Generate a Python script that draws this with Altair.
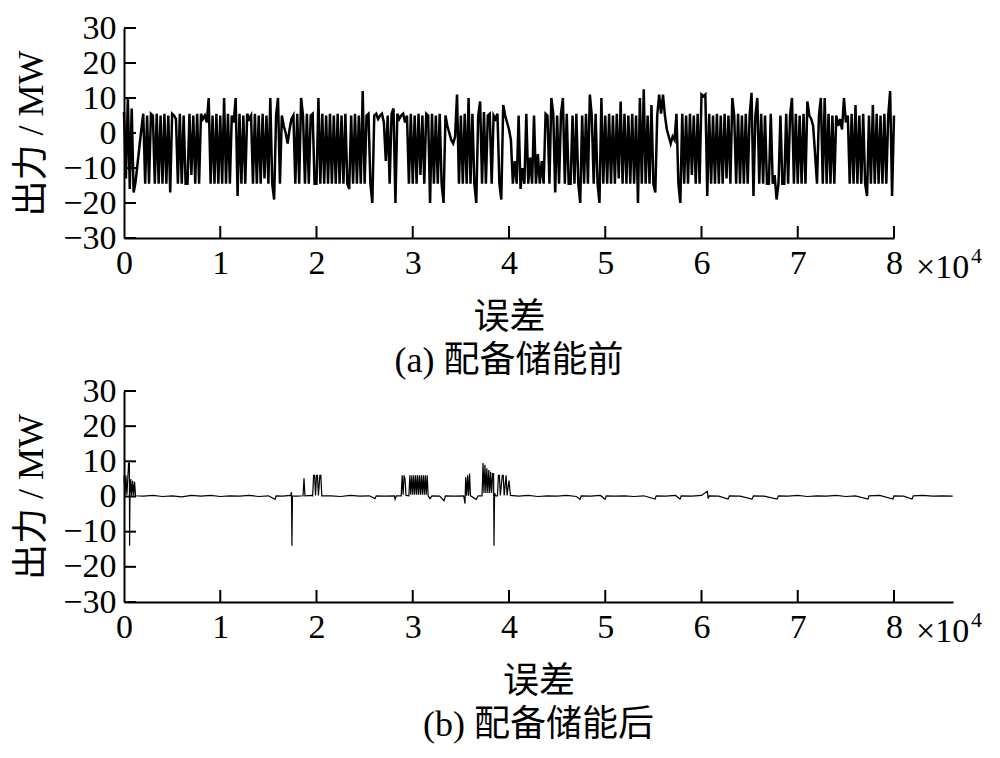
import altair as alt
import pandas as pd

# ---------------- data ----------------
STEP = 200  # sample spacing of the top series (x index units)

top_values = [
    6, -13, 10, -16, 7, -17, -14, -9, -4, 1,
    5.5, -14.5, 5, -14.5, 5.5, 5, -14.5, 5.5, -14.5, 5,
    -14.5, 5.5, -14.5, 5, -17, 5.5, 5, 4, -14.5, 5.5,
    -14.5, 5, -14.5, -14.5, 5.5, -12, 5, -14.5, 5.5, -14.5,
    5.5, 4, 5, 3, 10, -14.5, 5, -14.5, 5.5, -14.5,
    5, -14.5, 10, -14.5, 5.5, -14.5, 5, 3, 10, -18,
    5.5, -14.5, 5, -14.5, 5.5, 4, 5, -14.5, 5.5, -14.5,
    5, -14.5, 5.5, -13, 5, -14.5, 10, -14.5, -19, 5,
    10, -14.5, 5, 2, 0, -3, 1, 4, 5, -14.5,
    5.5, -14.5, 10, 5, -14.5, 5.5, -14.5, 5, 5.5, -14.5,
    -14.5, 10, -14.5, 5.5, -14.5, 5, -14.5, 5.5, -14.5, 5,
    -14.5, 5.5, -14.5, 5, -14.5, 5.5, -14.5, -16, 5, -14.5,
    5.5, -14.5, 5, -14.5, 12, -14.5, 5, 5.5, -14.5, -20,
    5, 5.5, 4, 5, 5.5, 3, -8, 5, -14.5, 5.5,
    7, -20, 5.5, 4, 5, 5.5, 3, 5, -14.5, 5.5,
    -14.5, 5, -14.5, 5.5, -12, 5, -14.5, 5.5, 5, -20,
    5.5, -14.5, 5, -14.5, 5.5, -14.5, -20, 5, 2, 0,
    -2, -3, -1, 11, -14.5, 5, -14.5, 5.5, -14.5, 10,
    -14.5, 5.5, -14.5, -20, 5, 9, -14.5, 6, -14.5, 5,
    5.5, -14.5, 5, 4, 5.5, -14.5, -19, 8, 5, 3,
    1, -2, -14.5, -8, -14.5, 5, -16, -10, -14.5, 5.5,
    -14.5, -7, -14.5, 5, -14.5, -6, -14.5, -8, -14.5, 5.5,
    5, -14.5, 10, 5.5, -17, 5, -14.5, 5.5, 10, -14.5,
    5.5, -14.5, -14.5, 5, -14.5, 5.5, -14.5, -20, 5, -14.5,
    5.5, -14.5, 11, 5, -14.5, 5.5, -14.5, -20, 10, -14.5,
    5, -14.5, 5.5, -14.5, 5, -14.5, 5.5, -13, 9, -14.5,
    5.5, -14.5, 5, -14.5, 5.5, -14.5, 5, -20, 10, -14.5,
    12.5, -14.5, 5, -14.5, 8, -14.5, -17, 5, 11, 5.5,
    11, 5, 1, -1, -3, -1, -2, 5.5, -14.5, -20,
    5.5, -14.5, 5, -14.5, 5.5, -12, 5, -14.5, 5.5, -14.5,
    11, 10.5, 11, -18, 5.5, -14.5, 5, -14.5, 5.5, -14.5,
    5, -14.5, 5.5, -13, 5, -14.5, 10, 5, -14.5, 5.5,
    -14.5, 5, -14.5, 5.5, -14.5, 5, 11.5, -18, 5, 10,
    -14.5, 5.5, -14.5, 5, -14.5, -14.5, 5.5, -14.5, -12, -19,
    -14.5, 5, -14.5, -14.5, 5.5, -14.5, 5, 10, -14.5, 5.5,
    -14.5, 5, -14.5, 5.5, -14.5, 9, 5, 4, 2, -6,
    -14.5, 5, 10, -14.5, 10, -14.5, 5.5, -14.5, 5, -14.5,
    5, 2, 4, 1, 10, 3, 5, -14.5, 5.5, -14.5,
    8, -14.5, 5, -14.5, 5.5, -14.5, -18, 5, -14.5, 8,
    -14.5, 5.5, -14.5, 5, -14.5, 5.5, -14.5, 5, 12, -18,
    5,
]

bottom_x = [
    0, 100, 200, 300, 400, 480, 560, 580, 620, 700, 800, 900, 1000, 1100, 1200,
    2000, 3000, 4000, 5000, 6000, 7000, 8000, 9000, 10000, 11000, 12000, 13000,
    14000, 15000, 15700, 15800, 16500, 17300, 17400, 17450, 17500, 18000, 18600,
    18700, 18800, 19500,
    19600, 19700, 19800, 19900, 20000, 20100, 20200, 20350, 20450, 20550,
    21500, 22500, 23500, 24500, 25500, 26080, 26200, 27000, 28100, 28160, 28300,
    28800, 28900, 29000, 29100, 29200, 29300, 29600, 29700, 29800, 29900, 30000,
    30100, 30200, 30300, 30400, 30500, 30600, 30700, 30800, 30900, 31000, 31100,
    31200, 31300, 31400, 31500, 31600,
    31800, 32000, 32800, 33250, 33400, 34300, 35300, 35430, 35500, 35600, 35700,
    35800, 35900, 36000, 36600, 36800,
    37200, 37300, 37400, 37500, 37600, 37700, 37800, 37900, 38000, 38100, 38200,
    38300, 38400, 38440, 38500, 38600, 38800, 38900, 39000, 39100, 39300, 39400,
    39500, 39700, 39800, 40000, 40150,
    41000, 42000, 43000, 44000, 45000, 46000, 47000, 47380, 47500, 48500, 49500,
    49980, 50100, 51000, 52000, 53000, 54000, 55170, 55300, 56300, 57300, 57770,
    57900, 59000, 60000, 60600, 60700, 60800, 61800, 62760, 62900, 64000, 65250,
    65400, 66500, 67850, 68000, 69000, 70000, 71000, 72000, 73000, 74000, 75000,
    76000, 77300, 77400, 78500, 79900, 80000, 81000, 81870, 82000, 83000, 84000,
    85000, 86100,
]
bottom_y = [
    6, 0.3, 6, 0.5, 5.5, 9.5, 9.5, -14, 0.2, 5, 0.2, 4.5, 0.3, 4.2, 0.2,
    0.1, 0.3, 0, 0.2, -0.1, 0.3, 0.1, 0.3, 0, 0.2, 0.1, 0.3,
    0, 0.2, -0.8, 0.2, 0.1, 0.3, 1.2, -14, 0.2, 0.1, 0.2,
    5.2, 0.2, 0.3,
    0.2, 6, 6, 0.3, 6, 6, 0.3, 6, 6, 0.2,
    0.2, 0, 0.3, 0.1, 0.2, -0.6, 0.2, 0.1, 0.2, -0.8, 0.2,
    0.2, 6, 0.5, 6, 5, 0.3, 0.2, 6, 0.5, 6, 0.5,
    6, 0.5, 6, 0.5, 6, 0.5, 6, 0.5, 6, 0.5, 6,
    0.5, 6, 0.5, 6, 0.2,
    -0.6, 0.2, 0.1, -1.2, 0.2, 0.1, 0.2, -2, 5.5, 0.2, 6,
    0.2, 6.5, 0.2, -0.8, 0.2,
    0.2, 9.5, 1, 9, 1, 8, 1, 7.5, 1, 7, 1,
    6.5, 6.5, -14, 1, 0.2, 0.2, 6, 6, 0.3, 6, 6,
    0.3, 6, 0.3, 4.5, 0.3,
    0.1, 0.3, 0, 0.2, 0.1, 0.3, 0, -0.8, 0.2, 0.1, 0.3,
    -0.8, 0.2, 0.1, 0.2, 0, 0.2, -0.7, 0.2, 0.1, 0.3, -0.7,
    0.2, 0.1, 0.3, 1.5, -0.6, 0.2, 0.1, -0.7, 0.2, 0.1, -0.7,
    0.2, 0.1, -0.7, 0.2, 0.1, 0.3, 0, 0.2, 0.1, 0.3, 0,
    0.2, -0.7, 0.2, 0.3, -0.7, 0.2, 0.1, -0.7, 0.2, 0.3, 0.1,
    0.2, 0.1,
]

x_tick_values = [0, 10000, 20000, 30000, 40000, 50000, 60000, 70000, 80000]
y_tick_values = [-30, -20, -10, 0, 10, 20, 30]

x_title = "误差"
y_title = "出力 / MW"
captions = ["(a) 配备储能前", "(b) 配备储能后"]
exp_base = "×10"
exp_power = "4"

# ---------------- styling ----------------
SERIF = "Liberation Serif, Noto Sans CJK SC"
CJK = "Liberation Serif, Noto Sans CJK SC"
LABEL_SIZE = 34
TITLE_SIZE = 36
TICK_LEN = 12


def panel(df, width, height, xmax, caption, line_w):
    xscale = alt.Scale(domain=[0, xmax], nice=False, zero=False)
    yscale = alt.Scale(domain=[-30, 30], nice=False)
    x_axis = alt.Axis(
        values=x_tick_values, labelExpr="datum.value / 10000", title=x_title,
        ticks=False, grid=False, domainColor="black", domainWidth=2,
        labelFont=SERIF, labelFontSize=LABEL_SIZE, labelColor="black",
        labelPadding=8, labelFlush=False, labelOverlap=False,
        titleFont=CJK, titleFontSize=TITLE_SIZE, titleFontWeight="normal",
        titleColor="black", titlePadding=20,
    )
    y_axis = alt.Axis(
        values=y_tick_values, title=y_title, ticks=False, grid=False,
        domainColor="black", domainWidth=2,
        labelFont=SERIF, labelFontSize=LABEL_SIZE, labelColor="black",
        labelPadding=8, labelFlush=False, labelOverlap=False,
        titleFont=CJK, titleFontSize=TITLE_SIZE, titleFontWeight="normal",
        titleColor="black", titlePadding=12,
    )
    line = alt.Chart(df).mark_line(color="black", strokeWidth=line_w).encode(
        x=alt.X("x:Q", scale=xscale, axis=x_axis),
        y=alt.Y("y:Q", scale=yscale, axis=y_axis),
        order="i:Q",
    )
    xt = pd.DataFrame({"x": x_tick_values[1:]})
    xticks = alt.Chart(xt).mark_rule(color="black", strokeWidth=2).encode(
        x=alt.X("x:Q", scale=xscale, axis=x_axis),
        y=alt.value(height),
        y2=alt.value(height - TICK_LEN),
    )
    yt = pd.DataFrame({"y": y_tick_values})
    yticks = alt.Chart(yt).mark_rule(color="black", strokeWidth=2).encode(
        y=alt.Y("y:Q", scale=yscale, axis=y_axis),
        x=alt.value(0),
        x2=alt.value(TICK_LEN),
    )
    base_txt = alt.Chart(pd.DataFrame({"t": [exp_base]})).mark_text(
        font=SERIF, fontSize=LABEL_SIZE, align="left", baseline="alphabetic",
        color="black",
    ).encode(text="t:N", x=alt.value(792), y=alt.value(height + 40))
    pow_txt = alt.Chart(pd.DataFrame({"t": [exp_power]})).mark_text(
        font=SERIF, fontSize=22, align="left", baseline="alphabetic",
        color="black",
    ).encode(text="t:N", x=alt.value(847), y=alt.value(height + 25))
    return alt.layer(line, xticks, yticks, base_txt, pow_txt).properties(
        width=width, height=height,
        title=alt.TitleParams(
            caption, orient="bottom", font=CJK, fontSize=TITLE_SIZE,
            fontWeight="normal", color="black", offset=9, anchor="middle",
        ),
    )


top_df = pd.DataFrame({
    "i": list(range(len(top_values))),
    "x": [i * STEP for i in range(len(top_values))],
    "y": top_values,
})
bot_df = pd.DataFrame({
    "i": list(range(len(bottom_x))),
    "x": bottom_x,
    "y": bottom_y,
})

top = panel(top_df, 770, 210, 80000, captions[0], 2.5)
bottom = panel(bot_df, 829, 211, 86130, captions[1], 1.2)

chart = alt.vconcat(top, bottom, spacing=-5).properties(
    padding={"left": 5, "top": 3, "right": 5, "bottom": 5}
).configure(background="white").configure_view(stroke=None)

chart.save("out.html", embed_options={"renderer": "svg", "actions": False})
